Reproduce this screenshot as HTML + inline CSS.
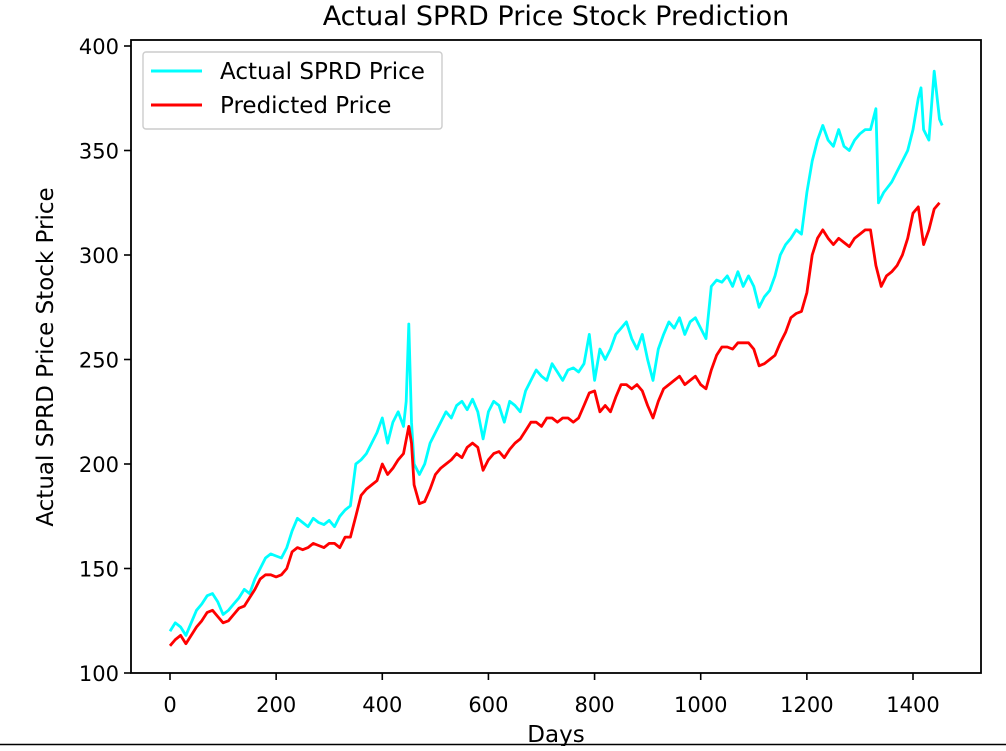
<!DOCTYPE html>
<html><head><meta charset="utf-8">
<style>
body{margin:0;background:#fff;width:1006px;height:746px;overflow:hidden;}
svg text{font-family:"DejaVu Sans","Liberation Sans",sans-serif;}
</style></head>
<body>
<svg id="chart" width="1006" height="746" xmlns="http://www.w3.org/2000/svg">
<g id="g"></g>
</svg>
<script>
const xTicks=[0,200,400,600,800,1000,1200,1400];
const yTicks=[100,150,200,250,300,350,400];
const actualDays=[0,10,20,30,40,50,60,70,80,90,100,110,120,130,140,150,160,170,180,190,200,210,220,230,240,250,260,270,280,290,300,310,320,330,340,350,360,370,380,390,400,410,420,430,440,445,450,455,460,470,480,490,500,510,520,530,540,550,560,570,580,590,600,610,620,630,640,650,660,670,680,690,700,710,720,730,740,750,760,770,780,790,800,810,820,830,840,850,860,870,880,890,900,910,920,930,940,950,960,970,980,990,1000,1010,1020,1030,1040,1050,1060,1070,1080,1090,1100,1110,1120,1130,1140,1150,1160,1170,1180,1190,1200,1210,1220,1230,1240,1250,1260,1270,1280,1290,1300,1310,1320,1330,1335,1345,1360,1370,1380,1390,1400,1410,1415,1420,1430,1440,1450,1455];
const actualVals=[120,124,122,118,124,130,133,137,138,134,128,130,133,136,140,138,145,150,155,157,156,155,160,168,174,172,170,174,172,171,173,170,175,178,180,200,202,205,210,215,222,210,220,225,218,230,267,220,200,195,200,210,215,220,225,222,228,230,226,231,225,212,225,230,228,220,230,228,225,235,240,245,242,240,248,244,240,245,246,244,248,262,240,255,250,255,262,265,268,260,255,262,250,240,255,262,268,265,270,262,268,270,265,260,285,288,287,290,285,292,285,290,285,275,280,283,290,300,305,308,312,310,330,345,355,362,355,352,360,352,350,355,358,360,360,370,325,330,335,340,345,350,360,375,380,360,355,388,365,362];
const predDays=[0,10,20,30,40,50,60,70,80,90,100,110,120,130,140,150,160,170,180,190,200,210,220,230,240,250,260,270,280,290,300,310,320,330,340,350,360,370,380,390,400,410,420,430,440,450,455,460,470,480,490,500,510,520,530,540,550,560,570,580,590,600,610,620,630,640,650,660,670,680,690,700,710,720,730,740,750,760,770,780,790,800,810,820,830,840,850,860,870,880,890,900,910,920,930,940,950,960,970,980,990,1000,1010,1020,1030,1040,1050,1060,1070,1080,1090,1100,1110,1120,1130,1140,1150,1160,1170,1180,1190,1200,1210,1220,1230,1240,1250,1260,1270,1280,1290,1300,1310,1320,1330,1340,1350,1360,1370,1380,1390,1400,1410,1420,1430,1440,1450];
const predVals=[113,116,118,114,118,122,125,129,130,127,124,125,128,131,132,136,140,145,147,147,146,147,150,158,160,159,160,162,161,160,162,162,160,165,165,175,185,188,190,192,200,195,198,202,205,218,210,190,181,182,188,195,198,200,202,205,203,208,210,208,197,202,205,206,203,207,210,212,216,220,220,218,222,222,220,222,222,220,222,228,234,235,225,228,225,232,238,238,236,238,235,228,222,230,236,238,240,242,238,240,242,238,236,245,252,256,256,255,258,258,258,255,247,248,250,252,258,263,270,272,273,282,300,308,312,308,305,308,306,304,308,310,312,312,295,285,290,292,295,300,308,320,323,305,312,322,325];

const L=131,R=981,T=40,B=673;
const xs=d=>170+d*(743/1400);
const ys=v=>673-(v-100)*(627/300);
const NS='http://www.w3.org/2000/svg';
const g=document.getElementById('g');
function mk(tag,attrs,parent){const e=document.createElementNS(NS,tag);for(const k in attrs)e.setAttribute(k,attrs[k]);(parent||g).appendChild(e);return e;}

function series(days,vals,color,name){
  const p=mk('polyline',{points:days.map((d,i)=>xs(d).toFixed(1)+','+ys(vals[i]).toFixed(1)).join(' '),fill:'none',stroke:color,'stroke-width':2.8,'stroke-linejoin':'round'});
  
  
}
series(actualDays,actualVals,'#00ffff','actual-price-line');
series(predDays,predVals,'#ff0000','predicted-price-line');

const f=mk('rect',{x:L,y:T,width:R-L,height:B-T,fill:'none',stroke:'#000','stroke-width':1.8});



xTicks.forEach(t=>{
  const x=xs(t);
  mk('line',{x1:x,y1:B,x2:x,y2:B+7,stroke:'#000','stroke-width':1.6});
  const tx=mk('text',{x:x,y:B+39,'text-anchor':'middle','font-size':21,fill:'#000'});
  tx.textContent=t;
  
  
});
yTicks.forEach(t=>{
  const y=ys(t);
  mk('line',{x1:L-7,y1:y,x2:L,y2:y,stroke:'#000','stroke-width':1.6});
  const tx=mk('text',{x:L-12,y:y+8,'text-anchor':'end','font-size':21,fill:'#000'});
  tx.textContent=t;
  
  
});

const title=mk('text',{x:556,y:25,'text-anchor':'middle','font-size':27,fill:'#000'});
title.textContent='Actual SPRD Price Stock Prediction';



const xl=mk('text',{x:556,y:742,'text-anchor':'middle','font-size':23,fill:'#000'});
xl.textContent='Days';



const yl=mk('text',{x:0,y:0,'text-anchor':'middle','font-size':23,fill:'#000',transform:'translate(53,357) rotate(-90)'});
yl.textContent='Actual SPRD Price Stock Price';



const paren=mk('text',{x:-7,y:378,'font-size':22,fill:'#000'});
paren.textContent=')';



mk('line',{x1:0,y1:744.5,x2:1006,y2:744.5,stroke:'#000','stroke-width':1.5});

const lg=mk('g',{});


mk('rect',{x:143,y:52,width:299,height:77,rx:3,fill:'#fff','fill-opacity':0.9,stroke:'#ccc','stroke-width':1.4},lg);
mk('line',{x1:151,y1:71,x2:202,y2:71,stroke:'#00ffff','stroke-width':3},lg);
mk('line',{x1:151,y1:105,x2:202,y2:105,stroke:'#ff0000','stroke-width':3},lg);
const l1=mk('text',{x:220,y:79,'font-size':23,fill:'#000'},lg);
l1.textContent='Actual SPRD Price';


const l2=mk('text',{x:220,y:113,'font-size':23,fill:'#000'},lg);
l2.textContent='Predicted Price';


</script>
</body></html>
